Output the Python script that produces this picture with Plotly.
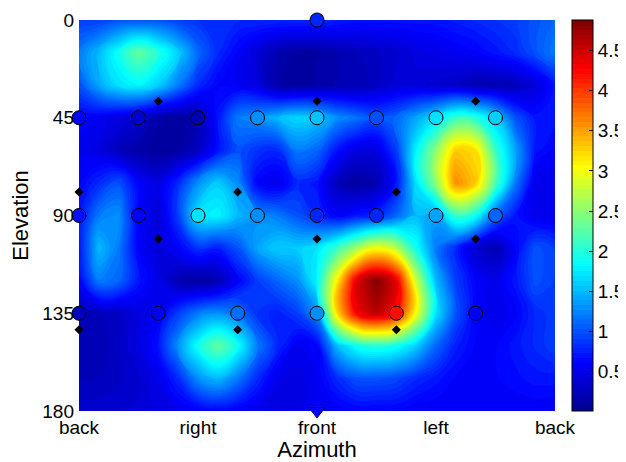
import plotly.graph_objects as go

# Grid coordinates (degrees)
azimuth = [-180, -165, -150, -135, -120, -105, -90, -75, -60, -45, -30, -15, 0,
           15, 30, 45, 60, 75, 90, 105, 120, 135, 150, 165, 180]
elevation = [0, 15, 30, 45, 60, 75, 90, 105, 120, 135, 150, 165, 180]

# Values (rows = elevation, cols = azimuth)
row_el0 = [0.9, 0.9, 1.0, 1.0, 1.0, 0.9, 0.85, 0.8, 0.8, 0.8, 0.8, 0.8, 0.8, 0.75, 0.7, 0.7, 0.7, 0.7, 0.7, 0.75, 0.8, 0.85, 0.9, 1.0, 1.1]
row_el15 = [1.2, 1.5, 1.9, 2.3, 2.0, 1.6, 1.1, 0.8, 0.6, 0.4, 0.2, 0.12, 0.12, 0.2, 0.25, 0.3, 0.35, 0.45, 0.5, 0.55, 0.6, 0.7, 0.8, 1.0, 1.2]
row_el30 = [1.0, 1.4, 1.7, 1.8, 1.6, 1.2, 0.8, 0.6, 0.55, 0.45, 0.15, 0.1, 0.15, 0.2, 0.2, 0.3, 0.4, 0.4, 0.35, 0.3, 0.2, 0.2, 0.25, 0.4, 0.7]
row_el45 = [0.6, 0.55, 0.45, 0.35, 0.15, 0.1, 0.2, 0.7, 1.2, 1.3, 1.5, 1.65, 1.55, 1.3, 1.15, 1.0, 1.1, 1.4, 1.7, 2.1, 2.0, 1.6, 1.0, 0.7, 0.7]
row_el60 = [0.55, 0.45, 0.25, 0.15, 0.1, 0.12, 0.3, 0.7, 1.0, 0.85, 0.8, 1.2, 1.1, 0.7, 0.45, 0.45, 0.9, 1.8, 2.5, 3.3, 3.2, 2.1, 1.4, 0.7, 0.6]
row_el75 = [0.6, 0.8, 1.0, 0.6, 0.45, 0.8, 1.3, 1.6, 1.3, 0.6, 0.5, 0.8, 0.7, 0.25, 0.1, 0.2, 0.7, 1.7, 2.5, 3.6, 3.3, 2.2, 1.2, 0.5, 0.5]
row_el90 = [0.7, 1.2, 1.3, 0.6, 0.4, 0.9, 1.7, 1.8, 1.5, 1.3, 1.2, 1.0, 0.8, 0.6, 0.7, 0.8, 1.1, 1.5, 1.4, 2.1, 1.9, 1.1, 0.7, 0.5, 0.5]
row_el105 = [0.7, 1.5, 1.2, 0.6, 0.4, 0.6, 0.85, 0.75, 1.0, 1.4, 1.6, 1.6, 1.7, 2.1, 2.6, 3.0, 2.7, 1.9, 1.2, 0.8, 0.35, 0.2, 0.6, 1.0, 0.9]
row_el120 = [0.6, 1.2, 1.1, 0.7, 0.5, 0.2, 0.1, 0.2, 0.6, 0.9, 1.1, 1.3, 1.8, 3.1, 4.4, 4.85, 4.4, 2.8, 1.5, 0.9, 0.6, 0.5, 0.7, 1.0, 0.9]
row_el135 = [0.25, 0.25, 0.3, 0.45, 0.55, 0.9, 1.2, 1.3, 1.15, 0.85, 0.75, 0.9, 1.3, 3.2, 4.3, 4.6, 4.2, 3.0, 1.7, 1.0, 0.6, 0.5, 0.6, 0.8, 0.9]
row_el150 = [0.2, 0.2, 0.3, 0.45, 0.7, 1.3, 1.9, 2.3, 1.9, 1.2, 0.8, 0.55, 0.6, 1.5, 1.9, 2.0, 1.9, 1.6, 1.1, 0.75, 0.6, 0.6, 0.7, 0.8, 0.9]
row_el165 = [0.25, 0.25, 0.3, 0.35, 0.5, 0.8, 1.3, 1.5, 1.2, 0.8, 0.5, 0.45, 0.55, 0.8, 1.0, 1.0, 0.95, 0.8, 0.7, 0.6, 0.6, 0.6, 0.65, 0.7, 0.7]
row_el180 = [0.35, 0.35, 0.35, 0.4, 0.45, 0.5, 0.55, 0.6, 0.55, 0.5, 0.45, 0.45, 0.6, 0.55, 0.6, 0.6, 0.6, 0.55, 0.55, 0.55, 0.55, 0.55, 0.55, 0.55, 0.55]
z_values = [row_el0, row_el15, row_el30, row_el45, row_el60, row_el75, row_el90,
            row_el105, row_el120, row_el135, row_el150, row_el165, row_el180]

z_min, z_max = 0.01, 4.88

# Measurement positions (circles)
circle_az = [0,
             -180, -135, -90, -45, 0, 45, 90, 135,
             -180, -135, -90, -45, 0, 45, 90, 135,
             -180, -120, -60, 0, 60, 120]
circle_el = [0,
             45, 45, 45, 45, 45, 45, 45, 45,
             90, 90, 90, 90, 90, 90, 90, 90,
             135, 135, 135, 135, 135, 135]
# Bottom marker (triangle)
tri_az = [0]
tri_el = [180]

# Loudspeaker positions (diamonds)
spk_az = [-120, 0, 120, -180, -60, 60, -120, 0, 120, -180, -60, 60]
spk_el = [37.4, 37.4, 37.4, 79.2, 79.2, 79.2, 100.8, 100.8, 100.8, 142.6, 142.6, 142.6]

x_tickvals = [-180, -90, 0, 90, 180]
x_ticktext = ["back", "right", "front", "left", "back"]
y_tickvals = [0, 45, 90, 135, 180]
cbar_ticks = [0.5, 1, 1.5, 2, 2.5, 3, 3.5, 4, 4.5]

jet = [[0.0, "rgb(0,0,143)"], [0.125, "rgb(0,0,255)"], [0.375, "rgb(0,255,255)"],
       [0.625, "rgb(255,255,0)"], [0.875, "rgb(255,0,0)"], [1.0, "rgb(128,0,0)"]]


def lookup(a, e):
    return z_values[elevation.index(e)][azimuth.index(a)]


circle_vals = [lookup(a, e) for a, e in zip(circle_az, circle_el)]
tri_vals = [lookup(a, e) for a, e in zip(tri_az, tri_el)]

font = "Liberation Sans, Arial, Helvetica, sans-serif"

fig = go.Figure()
fig.add_trace(go.Contour(
    x=azimuth, y=elevation, z=z_values,
    colorscale=jet, zmin=z_min, zmax=z_max,
    contours=dict(coloring="fill", start=z_min, end=z_max, size=0.06, showlines=False),
    line=dict(width=0, smoothing=1.3),
    colorbar=dict(
        x=1.036, xanchor="left", xpad=0, y=0.5, yanchor="middle", len=1, ypad=0,
        thickness=21, thicknessmode="pixels",
        outlinewidth=1, outlinecolor="black",
        tickvals=cbar_ticks, ticks="inside", ticklen=4, tickcolor="black",
        tickfont=dict(family=font, size=19, color="black"),
    ),
    hoverinfo="skip",
))
fig.add_trace(go.Scatter(
    x=circle_az, y=circle_el, mode="markers", cliponaxis=False,
    marker=dict(symbol="circle", size=14, color=circle_vals, colorscale=jet,
                cmin=z_min, cmax=z_max, line=dict(color="black", width=1)),
    showlegend=False,
))
fig.add_trace(go.Scatter(
    x=tri_az, y=tri_el, mode="markers", cliponaxis=False,
    marker=dict(symbol="triangle-down", size=14, color=tri_vals, colorscale=jet,
                cmin=z_min, cmax=z_max, line=dict(color="rgb(0,0,120)", width=1)),
    showlegend=False,
))
fig.add_trace(go.Scatter(
    x=spk_az, y=spk_el, mode="markers", cliponaxis=False,
    marker=dict(symbol="diamond", size=7, color="black"),
    showlegend=False,
))

fig.update_layout(
    width=618, height=454,
    margin=dict(l=71, r=71, t=12, b=51, autoexpand=False),
    paper_bgcolor="white", plot_bgcolor="white",
    font=dict(family=font, size=19, color="black"),
    showlegend=False,
    xaxis=dict(range=[-180, 180], tickvals=x_tickvals, ticktext=x_ticktext,
               showgrid=False, zeroline=False, ticks="", showline=False, automargin=False,
               ticklabelstandoff=3,
               title=dict(text="Azimuth", font=dict(size=22), standoff=9),
               tickfont=dict(size=19)),
    yaxis=dict(range=[180, 0], tickvals=y_tickvals,
               showgrid=False, zeroline=False, ticks="", showline=False, automargin=False,
               ticklabelstandoff=4,
               title=dict(text="Elevation", font=dict(size=22), standoff=8),
               tickfont=dict(size=19)),
)

fig.write_html("out.html")
